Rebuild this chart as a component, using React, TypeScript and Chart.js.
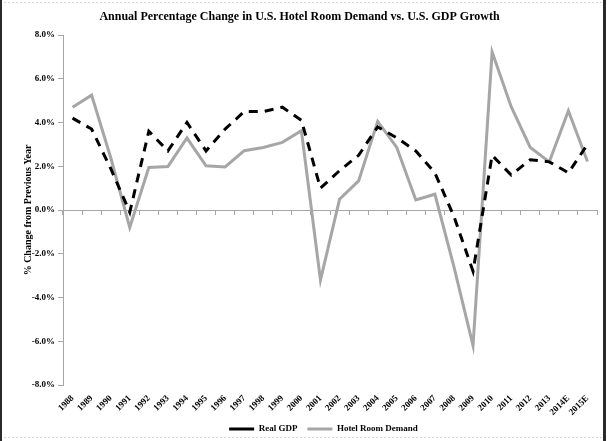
import { useEffect, useRef } from 'react';
import { Chart, registerables } from 'chart.js';

Chart.register(...registerables);

const years = ['1988', '1989', '1990', '1991', '1992', '1993', '1994', '1995', '1996', '1997', '1998', '1999', '2000', '2001', '2002', '2003', '2004', '2005', '2006', '2007', '2008', '2009', '2010', '2011', '2012', '2013', '2014E', '2015E'];

const realGdp = [4.2, 3.7, 1.9, -0.1, 3.6, 2.7, 4.0, 2.7, 3.7, 4.5, 4.5, 4.7, 4.1, 1.0, 1.8, 2.5, 3.8, 3.3, 2.7, 1.7, -0.3, -2.8, 2.5, 1.6, 2.3, 2.2, 1.7, 3.0];

const hotelDemand = [4.7, 5.25, 2.4, -0.8, 1.94, 1.99, 3.29, 2.02, 1.97, 2.71, 2.86, 3.09, 3.62, -3.2, 0.49, 1.33, 4.05, 2.86, 0.46, 0.72, -2.6, -6.2, 7.22, 4.72, 2.86, 2.2, 4.54, 2.22];

const yMin = -8;
const yMax = 8;
const yStep = 2;

const titleText = 'Annual Percentage Change in U.S. Hotel Room Demand vs. U.S. GDP Growth';
const yTitle = '% Change from Previous Year';

const FONT = "'Liberation Serif', 'Times New Roman', serif";
const GRAY = '#a6a6a6';

const framePlugin = {
  id: 'frame',
  afterLayout(chart: any) {
    const lg = chart.legend;
    if (lg) {
      lg.left += 24;
      lg.right += 24;
    }
  },
  beforeDraw(chart: any) {
    const { ctx, width, height } = chart;
    ctx.save();
    ctx.fillStyle = '#ffffff';
    ctx.fillRect(0, 0, width, height);
    ctx.restore();
  },
  afterDraw(chart: any) {
    const { ctx, width, height } = chart;
    ctx.save();
    ctx.strokeStyle = '#d8d8d8';
    ctx.lineWidth = 1;
    ctx.setLineDash([2, 2]);
    ctx.beginPath();
    ctx.moveTo(0, 2.5);
    ctx.lineTo(width, 2.5);
    ctx.moveTo(0, height - 3.5);
    ctx.lineTo(width, height - 3.5);
    ctx.stroke();
    ctx.setLineDash([]);
    ctx.fillStyle = '#2a2a2a';
    ctx.fillRect(0, 0, 2, height);
    ctx.fillRect(width - 5, 0, 3, height);
    ctx.restore();
  },
};

export default function App() {
  const ref = useRef<HTMLCanvasElement | null>(null);

  useEffect(() => {
    if (!ref.current) return;
    const chart = new Chart(ref.current, {
      type: 'line',
      data: {
        labels: years,
        datasets: [
          {
            label: 'Real GDP',
            data: realGdp,
            borderColor: '#000000',
            backgroundColor: '#000000',
            borderWidth: 3,
            borderDash: [9, 7],
            pointRadius: 0,
            tension: 0,
            xAxisID: 'x',
          },
          {
            label: 'Hotel Room Demand',
            data: hotelDemand,
            borderColor: GRAY,
            backgroundColor: GRAY,
            borderWidth: 3,
            pointRadius: 0,
            tension: 0,
            xAxisID: 'x',
          },
        ],
      },
      options: {
        responsive: false,
        animation: false,
        devicePixelRatio: 1,
        layout: { padding: { left: 2, right: 11, top: 0, bottom: -2.5 } },
        plugins: {
          title: {
            display: true,
            text: titleText,
            color: '#000000',
            font: { family: FONT, size: 12, weight: 'bold' },
            padding: { top: 10, bottom: 10.6 },
          },
          legend: {
            position: 'bottom',
            labels: {
              color: '#000000',
              font: { family: FONT, size: 9, weight: 'bold' },
              usePointStyle: true,
              pointStyle: 'line',
              pointStyleWidth: 25,
              boxWidth: 25,
              padding: 10,
            },
          },
          tooltip: { enabled: false },
        },
        scales: {
          x: {
            type: 'category',
            position: { y: 0 } as any,
            offset: true,
            grid: {
              display: true,
              drawOnChartArea: false,
              drawTicks: true,
              tickLength: 4,
              color: GRAY,
              offset: true,
            },
            border: { display: true, color: GRAY, width: 1 },
            ticks: { display: false },
          },
          x2: {
            type: 'category',
            labels: years,
            position: 'bottom',
            offset: true,
            grid: { display: false, drawTicks: false },
            border: { display: false },
            ticks: {
              color: '#000000',
              font: { family: FONT, size: 9, weight: 'bold' },
              maxRotation: 45,
              minRotation: 45,
              autoSkip: false,
              padding: 8,
            },
            afterFit(scale: any) {
              scale.height = 29.5;
              scale._computeLabelArea = () => undefined;
            },
          },
          y: {
            type: 'linear',
            min: yMin,
            max: yMax,
            ticks: {
              stepSize: yStep,
              color: '#000000',
              font: { family: FONT, size: 9, weight: 'bold' },
              padding: 3,
              callback: (v: any) => Number(v).toFixed(1) + '%',
            },
            grid: {
              display: true,
              drawOnChartArea: false,
              drawTicks: true,
              tickLength: 5,
              color: GRAY,
            },
            border: { display: true, color: GRAY, width: 1 },
            title: {
              display: true,
              text: yTitle,
              color: '#000000',
              font: { family: FONT, size: 10, weight: 'bold' },
              padding: { top: 20, bottom: 0 },
            },
            afterFit(scale: any) {
              scale.width = 61;
            },
          },
        },
      },
      plugins: [framePlugin],
    });
    return () => chart.destroy();
  }, []);

  return (
    <div style={{ position: 'absolute', left: 0, top: 0, width: 608, height: 441 }}>
      <canvas ref={ref} width={608} height={441} />
    </div>
  );
}
